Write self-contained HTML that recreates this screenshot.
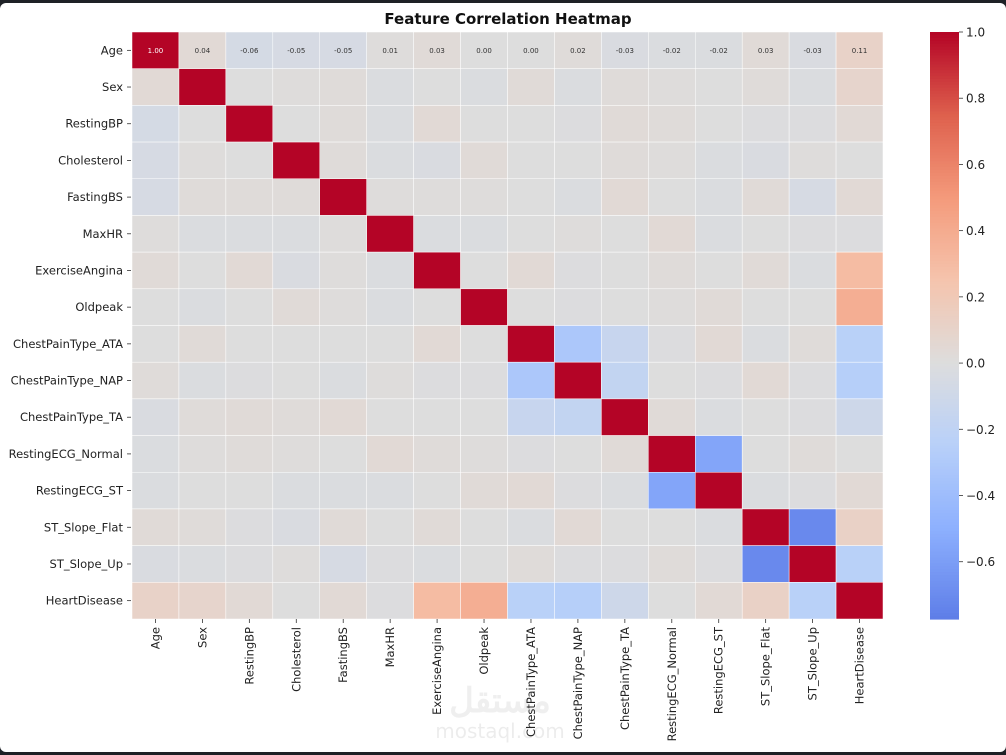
<!DOCTYPE html>
<html><head><meta charset="utf-8"><style>
html,body{margin:0;padding:0;background:#1e2126;}
#wrap{position:relative;width:1006px;height:755px;overflow:hidden;}
#card{position:absolute;left:0;top:3px;width:1006px;height:749px;background:#fff;border-radius:6px;}
svg{position:absolute;left:0;top:0;font-family:"DejaVu Sans","Liberation Sans",sans-serif;}
</style></head><body>
<div id="wrap">
<div id="card"></div>
<svg id="chart" width="1006" height="755">
<text x="508" y="24" text-anchor="middle" font-size="15" font-weight="bold" fill="#111">Feature Correlation Heatmap</text>
<text x="500" y="712" text-anchor="middle" font-size="34" font-weight="bold" fill="#000" opacity="0.06" font-family="'Noto Sans CJK SC',sans-serif">مستقل</text>
<text x="500" y="738" text-anchor="middle" font-size="20" fill="#000" opacity="0.07">mostaql.com</text>
</svg>
</div>
<script>
const labels = ["Age","Sex","RestingBP","Cholesterol","FastingBS","MaxHR","ExerciseAngina","Oldpeak","ChestPainType_ATA","ChestPainType_NAP","ChestPainType_TA","RestingECG_Normal","RestingECG_ST","ST_Slope_Flat","ST_Slope_Up","HeartDisease"];
// upper[i][k] = correlation between labels[i] and labels[i+1+k]
const upper = [
 [0.04,-0.06,-0.05,-0.05,0.01,0.03,0.00,0.00,0.02,-0.03,-0.02,-0.02,0.03,-0.03,0.11],
 [0.00,0.01,0.02,-0.02,0.00,-0.02,0.03,-0.02,0.02,0.01,0.00,0.02,-0.02,0.09],
 [0.00,0.02,-0.02,0.04,0.00,0.00,-0.01,0.03,0.02,0.00,-0.01,-0.01,0.04],
 [0.02,-0.02,-0.03,0.03,0.00,0.00,0.02,0.01,-0.02,-0.03,0.01,0.00],
 [0.01,0.01,0.01,0.00,-0.02,0.04,0.00,-0.02,0.03,-0.05,0.04],
 [-0.02,-0.02,0.00,0.01,0.00,0.04,-0.02,0.00,-0.01,-0.01],
 [0.00,0.04,-0.01,0.00,0.02,0.00,0.03,-0.02,0.30],
 [0.00,-0.01,0.00,0.01,0.03,0.00,0.00,0.38],
 [-0.32,-0.15,-0.01,0.04,-0.02,0.02,-0.24],
 [-0.18,0.00,-0.01,0.04,-0.01,-0.26],
 [0.03,-0.02,0.00,-0.01,-0.11],
 [-0.56,0.00,0.02,0.00],
 [-0.02,-0.01,0.04],
 [-0.71,0.12],
 [-0.24],
 []
];
const cbTicks = [1.0,0.8,0.6,0.4,0.2,0.0,-0.2,-0.4,-0.6];
const vmin = -0.773, vmax = 1.0;

const n = labels.length;
const M = [];
for (let i=0;i<n;i++){M.push([]);}
for (let i=0;i<n;i++){ for(let k=0;k<upper[i].length;k++){ const j=i+1+k; M[i][j]=upper[i][k]; M[j][i]=upper[i][k]; } }
for (let i=0;i<n;i++) M[i][i]=1;

const stops=[[0,59,76,192],[0.125,98,130,234],[0.25,141,176,254],[0.375,184,208,249],[0.5,221,221,221],[0.625,245,196,173],[0.75,244,154,123],[0.875,222,96,77],[1,180,4,38]];
function cmap(v){
  let t=(v+1)/2; t=Math.max(0,Math.min(1,t));
  for(let s=1;s<stops.length;s++){ if(t<=stops[s][0]){ const a=stops[s-1],b=stops[s]; const f=(t-a[0])/(b[0]-a[0]);
    return `rgb(${Math.round(a[1]+f*(b[1]-a[1]))},${Math.round(a[2]+f*(b[2]-a[2]))},${Math.round(a[3]+f*(b[3]-a[3]))})`; } }
  return 'rgb(180,4,38)';
}
const X0=132, X1=883, Y0=32, Y1=619;
const cw=(X1-X0)/n, ch=(Y1-Y0)/n;
const xs=j=>X0+j*cw, ys=i=>Y0+i*ch;
const svg=document.getElementById('chart');
const NS='http://www.w3.org/2000/svg';
function mk(tag,attrs){const e=document.createElementNS(NS,tag);for(const k in attrs)e.setAttribute(k,attrs[k]);svg.appendChild(e);return e;}

for(let i=0;i<n;i++)for(let j=0;j<n;j++){
  const r=mk('rect',{x:xs(j),y:ys(i),width:cw,height:ch,fill:cmap(M[i][j]),stroke:'#fff','stroke-width':0.5});
  
  
}
for(let j=0;j<n;j++){
  const v=M[0][j];
  const t=mk('text',{x:xs(j)+cw/2,y:ys(0)+ch/2+2.5,'text-anchor':'middle','font-size':7,fill:v>0.6?'#fff':'#333'});
  t.textContent=v.toFixed(2);
  
  
}
for(let i=0;i<n;i++){
  const y=ys(i)+ch/2;
  const tk=mk('line',{x1:127,x2:131,y1:y,y2:y,stroke:'#333','stroke-width':0.8});
  
  
  const t=mk('text',{x:123,y:y+4,'text-anchor':'end','font-size':11.5,fill:'#222'});
  t.textContent=labels[i];
  
  
}
for(let j=0;j<n;j++){
  const x=xs(j)+cw/2;
  const tk=mk('line',{x1:x,x2:x,y1:619,y2:623,stroke:'#333','stroke-width':0.8});
  
  
  const t=mk('text',{x:0,y:0,'text-anchor':'end','font-size':11.5,fill:'#222',transform:`translate(${x+4},627) rotate(-90)`});
  t.textContent=labels[j];
  
  
}
const CX=930, CW=29;
const cy=v=>Y0+(vmax-v)/(vmax-vmin)*(Y1-Y0);
const steps=200;
for(let s=0;s<steps;s++){
  const v1=vmax-(vmax-vmin)*s/steps, v2=vmax-(vmax-vmin)*(s+1)/steps;
  const r=mk('rect',{x:CX,y:cy(v1),width:CW,height:cy(v2)-cy(v1)+0.6,fill:cmap((v1+v2)/2)});
  
  
}
for(const v of cbTicks){
  const y=cy(v);
  const tk=mk('line',{x1:CX+CW,x2:CX+CW+4,y1:y,y2:y,stroke:'#333','stroke-width':0.8});
  
  
  const t=mk('text',{x:CX+CW+7,y:y+4.5,'font-size':12,fill:'#222'});
  t.textContent=(v<0?'\u2212':'')+Math.abs(v).toFixed(1);
  
  
}
</script>
</body></html>
